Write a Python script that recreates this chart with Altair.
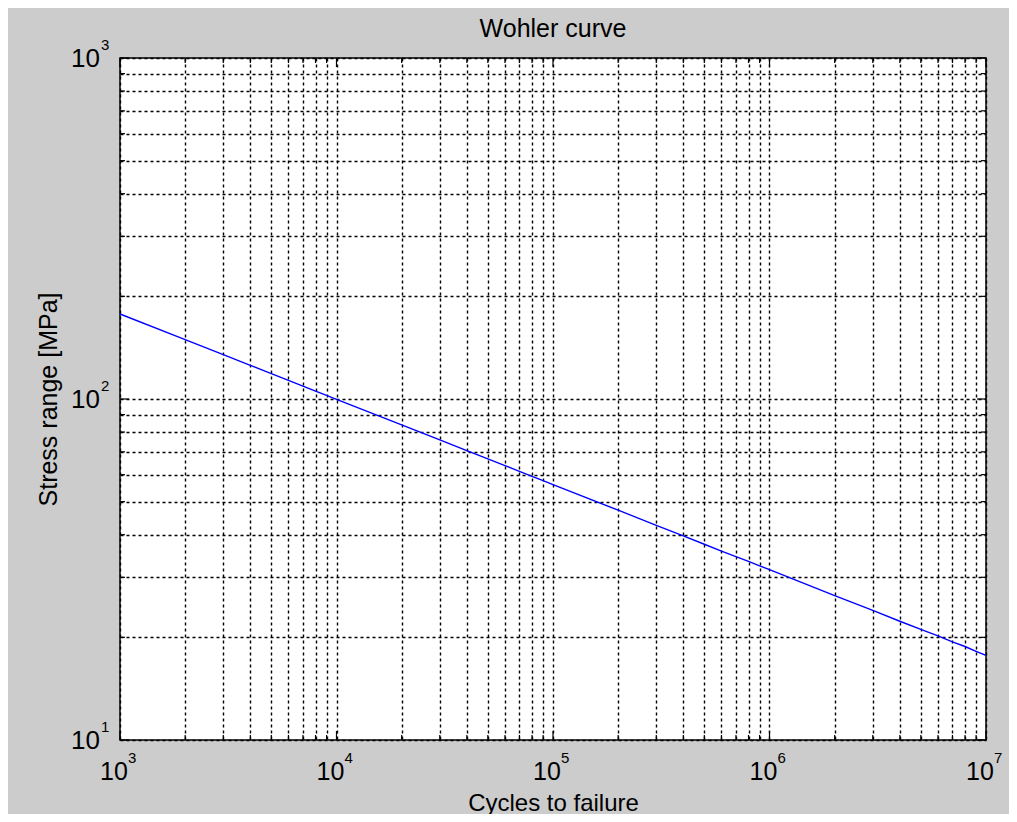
import altair as alt
import pandas as pd

# ---- data ----
cycles = [1e3, 2e3, 3e3, 4e3, 5e3, 6e3, 7e3, 8e3, 9e3,
          1e4, 2e4, 3e4, 4e4, 5e4, 6e4, 7e4, 8e4, 9e4,
          1e5, 2e5, 3e5, 4e5, 5e5, 6e5, 7e5, 8e5, 9e5,
          1e6, 2e6, 3e6, 4e6, 5e6, 6e6, 7e6, 8e6, 9e6, 1e7]
stress = [177.5, 149.3, 134.9, 125.5, 118.7, 113.4, 109.1, 105.5, 102.5,
          99.8, 84.0, 75.9, 70.6, 66.7, 63.8, 61.3, 59.3, 57.6,
          56.1, 47.2, 42.6, 39.7, 37.5, 35.8, 34.5, 33.4, 32.4,
          31.6, 26.5, 24.0, 22.3, 21.1, 20.2, 19.4, 18.8, 18.2, 17.7]

x_decades = [1e3, 1e4, 1e5, 1e6, 1e7]
x_exponents = ["3", "4", "5", "6", "7"]
y_decades = [10, 100, 1000]
y_exponents = ["1", "2", "3"]

x_minor = [k * d for d in [1e3, 1e4, 1e5, 1e6] for k in range(2, 10)]
y_minor = [k * d for d in [10, 100] for k in range(2, 10)]
x_grid = sorted(x_decades + x_minor)
y_grid = sorted(y_decades + y_minor)

TITLE = "Wohler curve"
XTITLE = "Cycles to failure"
YTITLE = "Stress range [MPa]"

# ---- layout ----
W, H = 866, 682
FONT = "Liberation Sans, Arial, sans-serif"
MAJ, MIN = 9, 5
GRID = "#000000"

xs = alt.Scale(type="log", domain=[1e3, 1e7], nice=False, zero=False)
ys = alt.Scale(type="log", domain=[10, 1000], nice=False, zero=False)

xaxis = alt.Axis(values=x_grid, grid=True, gridColor=GRID, gridDash=[3, 3],
                 gridOpacity=1, gridWidth=1.4, labels=False, ticks=False, domain=False,
                 title=XTITLE, titleX=W / 2, titleY=70, titleBaseline="alphabetic",
                 titleAlign="center", titleFont=FONT, titleFontSize=24,
                 titleFontWeight="normal", titleColor="#000000")
yaxis = alt.Axis(values=y_grid, grid=True, gridColor=GRID, gridDash=[3, 3],
                 gridOpacity=1, gridWidth=1.4, labels=False, ticks=False, domain=False,
                 title=YTITLE, titleX=-64, titleY=H / 2, titleAngle=-90,
                 titleBaseline="alphabetic", titleAlign="center", titleFont=FONT,
                 titleFontSize=25, titleFontWeight="normal", titleColor="#000000")

X = alt.X("N:Q", scale=xs, axis=xaxis)
Y = alt.Y("S:Q", scale=ys, axis=yaxis)

df = pd.DataFrame({"N": cycles, "S": stress})
line = alt.Chart(df).mark_line(color="#0000ff", strokeWidth=1.4).encode(x=X, y=Y)

xmaj = pd.DataFrame({"N": x_decades})
xmin = pd.DataFrame({"N": x_minor})
ymaj = pd.DataFrame({"S": y_decades})
ymin = pd.DataFrame({"S": y_minor})

def xticks(d, L):
    bot = alt.Chart(d).mark_rule(color="#000000", strokeWidth=1.2).encode(
        x=X, y=alt.value(H - L), y2=alt.value(H))
    top = alt.Chart(d).mark_rule(color="#000000", strokeWidth=1.2).encode(
        x=X, y=alt.value(0), y2=alt.value(L))
    return [bot, top]

def yticks(d, L):
    left = alt.Chart(d).mark_rule(color="#000000", strokeWidth=1.2).encode(
        y=Y, x=alt.value(0), x2=alt.value(L))
    right = alt.Chart(d).mark_rule(color="#000000", strokeWidth=1.2).encode(
        y=Y, x=alt.value(W - L), x2=alt.value(W))
    return [left, right]

ticks = xticks(xmaj, MAJ) + xticks(xmin, MIN) + yticks(ymaj, MAJ) + yticks(ymin, MIN)

xlab_df = pd.DataFrame({"N": x_decades, "base": ["10"] * 5, "exp": x_exponents})
ylab_df = pd.DataFrame({"S": y_decades, "base": ["10"] * 3, "exp": y_exponents})

xlab_base = alt.Chart(xlab_df).mark_text(font=FONT, fontSize=25, color="#000000",
                                         align="center", baseline="alphabetic", dx=-6).encode(
    x=X, y=alt.value(722), text="base:N")
xlab_exp = alt.Chart(xlab_df).mark_text(font=FONT, fontSize=15, color="#000000",
                                        align="left", baseline="alphabetic", dx=8).encode(
    x=X, y=alt.value(705), text="exp:N")
ylab_base = alt.Chart(ylab_df).mark_text(font=FONT, fontSize=26, color="#000000",
                                         align="right", baseline="alphabetic", dy=9).encode(
    y=Y, x=alt.value(-20), text="base:N")
ylab_exp = alt.Chart(ylab_df).mark_text(font=FONT, fontSize=15, color="#000000",
                                        align="left", baseline="alphabetic", dy=-8).encode(
    y=Y, x=alt.value(-19), text="exp:N")

title = alt.Chart(pd.DataFrame({"t": [TITLE]})).mark_text(
    font=FONT, fontSize=25, color="#000000", align="center", baseline="alphabetic").encode(
    x=alt.value(W / 2), y=alt.value(-21), text="t:N")

chart = alt.layer(line, *ticks, xlab_base, xlab_exp, ylab_base, ylab_exp, title).properties(
    width=W, height=H,
    autosize=alt.AutoSizeParams(type="none"),
    padding={"left": 112, "top": 50, "right": 23, "bottom": 74},
    background="#cccccc",
).configure_view(fill="#ffffff", stroke="#000000", strokeWidth=1.5)

chart.save("out.html", embed_options={"renderer": "svg", "actions": False})
